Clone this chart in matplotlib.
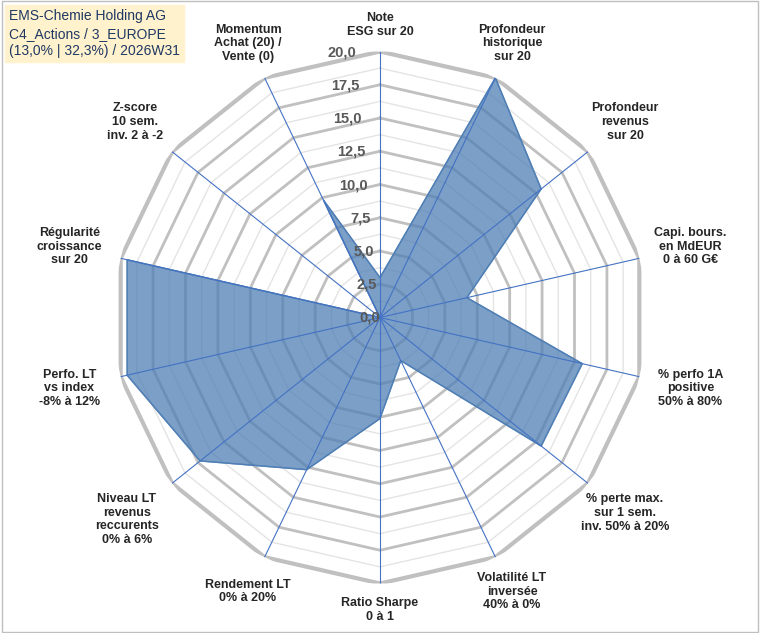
import numpy as np
import matplotlib
matplotlib.use("Agg")
import matplotlib.pyplot as plt

plt.rcParams["font.family"] = ["Liberation Sans", "DejaVu Sans"]

labels = ["Note\nESG sur 20", "Profondeur\nhistorique\nsur 20", "Profondeur\nrevenus\nsur 20",
          "Capi. bours.\nen MdEUR\n0 à 60 G€", "% perfo 1A\npositive\n50% à 80%",
          "% perte max.\nsur 1 sem.\ninv. 50% à 20%", "Volatilité LT\ninversée\n40% à 0%",
          "Ratio Sharpe\n0 à 1", "Rendement LT\n0% à 20%", "Niveau LT\nrevenus\nreccurents\n0% à 6%",
          "Perfo. LT\nvs index\n-8% à 12%", "Régularité\ncroissance\nsur 20",
          "Z-score\n10 sem.\ninv. 2 à -2", "Momentum\nAchat (20) /\nVente (0)"]
values = [3.0, 20.0, 15.5, 6.7, 15.6, 15.5, 3.6, 7.6, 12.7, 17.3, 19.5, 19.5, 0.0, 9.8]
ticks = [0, 2.5, 5, 7.5, 10, 12.5, 15, 17.5, 20]
title = "EMS-Chemie Holding AG\nC4_Actions / 3_EUROPE\n(13,0% | 32,3%) / 2026W31"

n = len(labels)
ang = np.arange(n) * 2 * np.pi / n
fig = plt.figure(figsize=(7.6, 6.33), dpi=100)
ax = fig.add_axes([0.5 - 266/760, 0.5 - 266/633 - 1/633, 532/760, 532/633], projection="polar")
ax.set_theta_zero_location("N")
ax.set_theta_direction(-1)
ax.set_ylim(0, 20)
ax.axis("off")

closed = np.append(ang, ang[0])
for r in np.arange(1.25, 20.01, 1.25):
    major = abs(r / 2.5 - round(r / 2.5)) < 1e-6
    lw = 3 if r == 20 else (2 if major else 1)
    col = "#c0c0c0" if major else "#e4e4e4"
    ax.plot(closed, [r] * (n + 1), color=col, lw=lw, zorder=1)
for a in ang:
    ax.plot([a, a], [0, 20], color="#4472c4", lw=0.8, zorder=3)

v = np.append(values, values[0])
ax.fill(closed, v, color="#4f7fb5", alpha=0.75, zorder=2)
ax.plot(closed, v, color="#4f7fb5", lw=1, zorder=2)

for t in ticks:
    ax.text(-0.09, t, f"{t:.1f}".replace(".", ","), ha="right", va="center",
            fontsize=10.5, fontweight="bold", color="#595959", zorder=4)

for a, lab in zip(ang, labels):
    s = np.sin(a)
    r = 22.0 if lab.count("\n") < 3 else 22.8
    ax.text(a, r + 2.0 * abs(s), lab, ha="center", va="center", fontsize=9, fontweight="bold",
            color="#262626", linespacing=1.2)

fig.text(0.012, 0.985, title, ha="left", va="top", fontsize=10, color="#1f3864",
         linespacing=1.3, bbox=dict(boxstyle="square,pad=0.3", fc="#fff2cc", ec="#fff2cc"))
fig.patches.append(plt.Rectangle((0.002, 0.002), 0.996, 0.996, transform=fig.transFigure,
                                 fill=False, ec="#bfbfbf", lw=1))
fig.savefig("out.png", dpi=100)
